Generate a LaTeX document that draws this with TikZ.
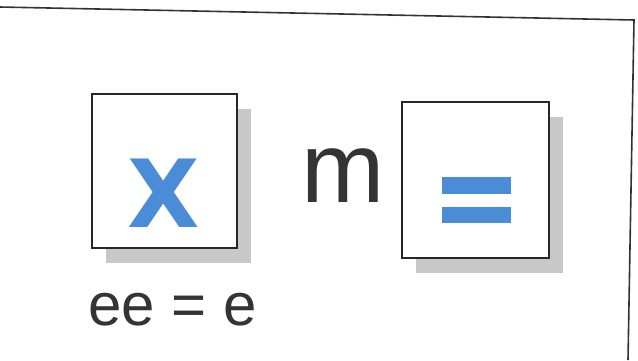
\documentclass[tikz,border=0pt]{standalone}
\usepackage{fontspec}
\setmainfont{Liberation Sans}
\newfontfamily\symfont{DejaVu Sans}
\usetikzlibrary{shadows}
\definecolor{symblue}{RGB}{74,140,214}
\definecolor{inkgray}{RGB}{52,52,52}
\definecolor{shadowgray}{RGB}{200,200,200}
\begin{document}
\begin{tikzpicture}[x=0.5pt, y=-0.5pt,
  card/.style={draw=black!85,line width=0.8pt,fill=white,inner sep=0pt,
    drop shadow={shadow xshift=7pt,shadow yshift=-7.5pt,fill=shadowgray,opacity=1}},
  word/.style={anchor=base,text=inkgray,inner sep=0pt}]
\useasboundingbox (0,0) rectangle (638,360);
% frame
\draw[line width=0.8pt,black!80] (0,7) -- (634,20) -- (628,360);
% cards
\node[card,minimum width=72.5pt,minimum height=77pt] (xcard) at (164.5,171) {};
\node[card,minimum width=73.5pt,minimum height=78pt] (eqcard) at (475.5,180) {};
\node[anchor=base,text=symblue,inner sep=0pt,font=\symfont\bfseries\fontsize{47}{47}\selectfont] (xsym) at (163.5,227) {X};
\fill[symblue] (442,177) rectangle (511,194);
\fill[symblue] (442,207) rectangle (511,223);
% labels
\node[word,font=\fontsize{50}{50}\selectfont] (mop) at (343,202) {m};
\node[word,font=\fontsize{30}{30}\selectfont] (rule) at (172.5,325) {ee = e};
\end{tikzpicture}
\end{document}
